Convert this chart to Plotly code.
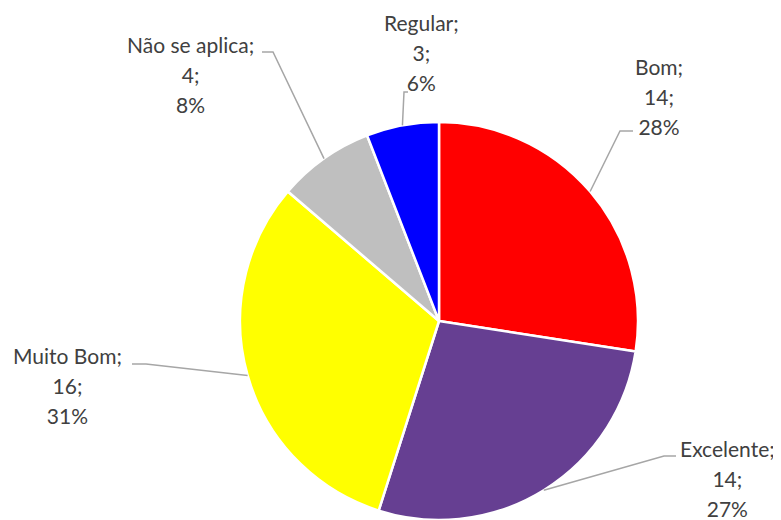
import math
import plotly.graph_objects as go

# Data
categories = ["Bom", "Excelente", "Muito Bom", "Não se aplica", "Regular"]
counts = [14, 14, 16, 4, 3]
percent_labels = ["28%", "27%", "31%", "8%", "6%"]
colors = ["#FF0000", "#663F92", "#FFFF00", "#BFBFBF", "#0000FF"]

W, H = 781, 520
OFF = 8  # page body margin, the figure is drawn 8px in from the window corner
# pie placement in screen pixels
CX, CY, R = 439, 321, 199

# label block centres (px) and leader-line elbow (px) for each slice
label_pos = {
    "Bom": (659, 96),
    "Excelente": (727, 478),
    "Muito Bom": (68, 385),
    "Não se aplica": (190, 74),
    "Regular": (421, 52),
}
elbow = {
    "Bom": [(633, 131), (620, 131)],
    "Excelente": [(676, 456), (664, 456)],
    "Muito Bom": [(132, 364), (146, 364)],
    "Não se aplica": [(262, 52), (273, 52)],
    "Regular": [(408, 92), (404, 92)],
}


def px(x, y):
    return (x - OFF) / W, 1 - (y - OFF) / H


x0, y1 = px(CX - R, CY - R)
x1, y0 = px(CX + R, CY + R)

fig = go.Figure(go.Pie(
    labels=categories,
    values=counts,
    sort=False,
    direction="clockwise",
    rotation=0,
    marker=dict(colors=colors, line=dict(color="white", width=2.5)),
    textinfo="none",
    hoverinfo="label+value+percent",
    domain=dict(x=[x0, x1], y=[y0, y1]),
))

total = sum(counts)
cum = 0
shapes = []
annotations = []
for cat, n, pct in zip(categories, counts, percent_labels):
    mid = (cum + n / 2) / total * 2 * math.pi
    cum += n
    ex = CX + R * math.sin(mid)
    ey = CY - R * math.cos(mid)
    pts = elbow[cat] + [(ex, ey)]
    path = "M " + " L ".join("%f,%f" % px(x, y) for x, y in pts)
    shapes.append(dict(type="path", path=path, xref="paper", yref="paper",
                       line=dict(color="#A6A6A6", width=1.5)))
    lx, ly = px(*label_pos[cat])
    span = "<span style='font-size:21px'>%s</span>"
    annotations.append(dict(
        x=lx, y=ly, xref="paper", yref="paper", showarrow=False,
        xanchor="center", yanchor="middle", align="center",
        text="<br>".join([span % (cat + ";"), span % ("%d;" % n), span % pct]),
        font=dict(family="Lato", size=23, color="#404040"),
    ))

fig.update_layout(
    width=W, height=H,
    margin=dict(l=0, r=0, t=0, b=0),
    paper_bgcolor="white",
    showlegend=False,
    shapes=shapes,
    annotations=annotations,
)

fig.write_html("out.html")
